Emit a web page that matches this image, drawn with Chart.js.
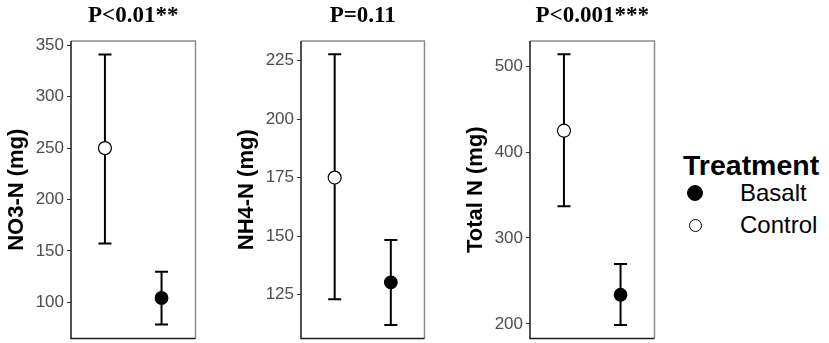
<!DOCTYPE html>
<html><head><meta charset="utf-8">
<script src="https://cdn.jsdelivr.net/npm/chart.js@4.4.0/dist/chart.umd.min.js"></script>
<style>
html,body{margin:0;padding:0;background:#fff;width:829px;height:343px;overflow:hidden;position:relative;}
canvas{position:absolute;top:0;}
.lg{position:absolute;font-family:'Liberation Sans',Arial,sans-serif;color:#000;line-height:1;white-space:nowrap;}
.dot{position:absolute;border-radius:50%;box-sizing:border-box;}
</style></head><body>
<canvas id="c1" width="204" height="347" style="left:0px"></canvas>
<canvas id="c2" width="203" height="347" style="left:230px"></canvas>
<canvas id="c3" width="204" height="347" style="left:459px"></canvas>
<div id="legend"></div>
<script>
// ---- data ----
const groups = ['Control', 'Basalt'];
const groupX = [1, 2];
const no3Mean = [250, 104.2];
const no3Low = [157.3, 78.3];
const no3High = [341.0, 129.8];
const nh4Mean = [175, 130.3];
const nh4Low = [123.1, 112.1];
const nh4High = [227.6, 148.3];
const totMean = [424.8, 233.9];
const totLow = [336.8, 198.8];
const totHigh = [513.7, 269.7];
const no3Ticks = [100, 150, 200, 250, 300, 350];
const nh4Ticks = [125, 150, 175, 200, 225];
const totTicks = [200, 300, 400, 500];
const panelTitles = ['P<0.01**', 'P=0.11', 'P<0.001***'];
const yTitles = ['NO3-N (mg)', 'NH4-N (mg)', 'Total N (mg)'];
const legendTitle = 'Treatment';
const legendLabels = ['Basalt', 'Control'];

const SANS = "'Liberation Sans', Arial, sans-serif";
const SERIF = "'Liberation Serif', 'Times New Roman', serif";
const fillFor = {Control: '#ffffff', Basalt: '#000000'};
const radiusFor = {Control: 6.5, Basalt: 6.3};

const framePlugin = {
  id: 'frame',
  beforeDatasetsDraw(chart) {
    const {ctx, chartArea: a} = chart;
    ctx.save();
    ctx.lineWidth = 1.5;
    ctx.strokeStyle = '#8c8c8c';
    ctx.beginPath();
    ctx.moveTo(a.left, a.top); ctx.lineTo(a.right, a.top); ctx.lineTo(a.right, a.bottom);
    ctx.stroke();
    ctx.strokeStyle = '#1a1a1a';
    ctx.beginPath();
    ctx.moveTo(a.left, a.top); ctx.lineTo(a.left, a.bottom); ctx.lineTo(a.right, a.bottom);
    ctx.stroke();
    ctx.restore();
  }
};

function makePanel(id, mean, low, high, ticks, yMin, yMax, title, yTitle) {
  const datasets = [{
    type: 'scatter',
    data: groupX.map((x, i) => ({x: x, y: mean[i]})),
    pointRadius: groups.map(g => radiusFor[g]),
    pointBackgroundColor: groups.map(g => fillFor[g]),
    pointBorderColor: '#000',
    pointBorderWidth: 1.2,
    showLine: false
  }];
  groupX.forEach((x, i) => {
    datasets.push({
      type: 'line',
      data: [{x: x, y: low[i]}, {x: x, y: high[i]}],
      borderColor: '#000',
      borderWidth: 2,
      pointStyle: 'line',
      pointRadius: 6.5,
      pointBorderWidth: 2,
      pointBorderColor: '#000',
      fill: false,
      tension: 0
    });
  });
  return new Chart(document.getElementById(id), {
    type: 'scatter',
    data: {datasets},
    plugins: [framePlugin],
    options: {
      responsive: false,
      animation: false,
      devicePixelRatio: 1,
      layout: {padding: {top: 0, bottom: 2, left: 0, right: 2}},
      plugins: {
        legend: {display: false},
        tooltip: {enabled: false},
        title: {
          display: true, text: title, fullSize: false, color: '#000',
          font: {family: SERIF, size: 23, weight: 'bold'},
          padding: {top: 1.8, bottom: 11.6}
        }
      },
      scales: {
        x: {type: 'linear', min: 0.4, max: 2.6, display: false},
        y: {
          type: 'linear', min: yMin, max: yMax,
          afterBuildTicks: s => { s.ticks = ticks.map(v => ({value: v})); },
          afterFit: s => { s.width = 71; s.paddingTop = 0; s.paddingBottom = 0; },
          ticks: {color: '#4d4d4d', font: {family: SANS, size: 17}, padding: 3},
          grid: {drawOnChartArea: false, drawTicks: true, tickLength: 4, color: '#333', lineWidth: 1},
          border: {display: false},
          title: {
            display: true, text: yTitle, color: '#000',
            font: {family: SANS, size: 22, weight: 'bold'},
            padding: {top: 4, bottom: 0}
          }
        }
      }
    }
  });
}

makePanel('c1', no3Mean, no3Low, no3High, no3Ticks, 64.8, 354.2, panelTitles[0], yTitles[0]);
makePanel('c2', nh4Mean, nh4Low, nh4High, nh4Ticks, 106.3, 233.3, panelTitles[1], yTitles[1]);
makePanel('c3', totMean, totLow, totHigh, totTicks, 183.0, 529.2, panelTitles[2], yTitles[2]);

// ---- legend ----
const lg = document.getElementById('legend');
function add(html) { lg.insertAdjacentHTML('beforeend', html); }
add(`<div class="lg" style="left:683px;top:151px;font-size:28.5px;font-weight:bold;">${legendTitle}</div>`);
const rowY = [193, 225];
legendLabels.forEach((lab, i) => {
  const r = radiusFor[lab] + (lab === 'Basalt' ? 1.7 : 0);
  const cx = 695, cy = rowY[i];
  const fill = fillFor[lab];
  add(`<div class="dot" style="left:${cx - r}px;top:${cy - r}px;width:${2 * r}px;height:${2 * r}px;background:${fill};border:1.2px solid #000;"></div>`);
  add(`<div class="lg" style="left:740px;top:${cy - 12}px;font-size:24px;">${lab}</div>`);
});
</script>
</body></html>
